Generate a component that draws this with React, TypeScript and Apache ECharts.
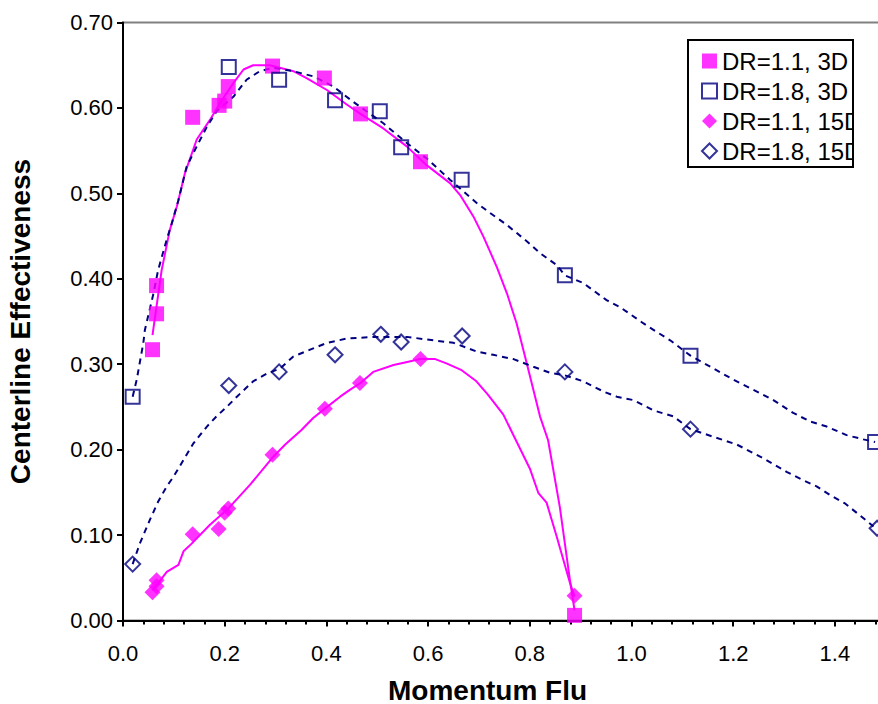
import React, { useEffect, useRef } from "react";
import * as echarts from "echarts";

const xTicks = { min: 0, max: 1.6, interval: 0.2 };
const yTicks = { min: 0, max: 0.7, interval: 0.1 };

const seriesNames = ["DR=1.1, 3D", "DR=1.8, 3D", "DR=1.1, 15D", "DR=1.8, 15D"];

const dr11_3D = [[0.058,0.317],[0.066,0.359],[0.066,0.392],[0.137,0.589],[0.189,0.603],[0.200,0.608],[0.207,0.625],[0.294,0.649],[0.396,0.635],[0.467,0.593],[0.585,0.537],[0.888,0.006]];
const dr18_3D = [[0.019,0.262],[0.208,0.648],[0.307,0.633],[0.417,0.609],[0.505,0.596],[0.547,0.554],[0.666,0.516],[0.869,0.404],[1.116,0.310],[1.479,0.209]];
const dr11_15D = [[0.058,0.033],[0.066,0.040],[0.066,0.047],[0.137,0.101],[0.188,0.107],[0.200,0.126],[0.207,0.131],[0.294,0.194],[0.397,0.248],[0.466,0.278],[0.585,0.306],[0.888,0.029]];
const dr18_15D = [[0.019,0.066],[0.208,0.275],[0.307,0.291],[0.417,0.311],[0.507,0.335],[0.547,0.326],[0.667,0.333],[0.869,0.291],[1.116,0.224],[1.483,0.108]];

const fit11_3D = [[0.058,0.334],[0.076,0.410],[0.092,0.457],[0.106,0.485],[0.122,0.524],[0.145,0.563],[0.171,0.586],[0.191,0.606],[0.217,0.629],[0.237,0.645],[0.256,0.650],[0.289,0.650],[0.335,0.643],[0.361,0.635],[0.401,0.621],[0.440,0.604],[0.467,0.593],[0.512,0.576],[0.558,0.555],[0.597,0.533],[0.643,0.512],[0.663,0.498],[0.689,0.473],[0.709,0.449],[0.735,0.414],[0.755,0.383],[0.774,0.348],[0.794,0.301],[0.820,0.239],[0.836,0.211],[0.859,0.133],[0.879,0.047],[0.888,0.012]];
const fit18_3D = [[0.019,0.262],[0.027,0.282],[0.040,0.325],[0.043,0.340],[0.060,0.383],[0.069,0.410],[0.086,0.446],[0.096,0.465],[0.109,0.492],[0.125,0.531],[0.145,0.555],[0.165,0.578],[0.184,0.596],[0.217,0.613],[0.243,0.633],[0.269,0.643],[0.296,0.647],[0.335,0.643],[0.374,0.637],[0.414,0.625],[0.453,0.607],[0.512,0.582],[0.558,0.559],[0.601,0.539],[0.643,0.516],[0.695,0.489],[0.722,0.477],[0.755,0.463],[0.794,0.444],[0.820,0.430],[0.853,0.416],[0.869,0.404],[0.905,0.395],[0.951,0.375],[0.977,0.367],[1.023,0.348],[1.049,0.338],[1.076,0.328],[1.116,0.310],[1.167,0.293],[1.200,0.282],[1.240,0.270],[1.279,0.258],[1.318,0.243],[1.351,0.233],[1.384,0.227],[1.423,0.217],[1.456,0.212],[1.479,0.209]];
const fit11_15D = [[0.058,0.035],[0.086,0.057],[0.109,0.065],[0.119,0.081],[0.135,0.090],[0.171,0.112],[0.207,0.131],[0.250,0.159],[0.296,0.192],[0.319,0.206],[0.351,0.223],[0.374,0.237],[0.397,0.248],[0.427,0.262],[0.446,0.270],[0.467,0.278],[0.492,0.291],[0.532,0.299],[0.561,0.303],[0.584,0.306],[0.614,0.306],[0.636,0.301],[0.666,0.293],[0.695,0.280],[0.718,0.264],[0.748,0.241],[0.771,0.213],[0.800,0.178],[0.817,0.149],[0.833,0.138],[0.853,0.098],[0.879,0.044],[0.888,0.028]];
const fit18_15D = [[0.019,0.066],[0.033,0.090],[0.053,0.118],[0.069,0.139],[0.086,0.157],[0.099,0.168],[0.119,0.188],[0.138,0.207],[0.165,0.227],[0.184,0.239],[0.204,0.250],[0.224,0.262],[0.256,0.280],[0.283,0.289],[0.309,0.295],[0.335,0.309],[0.368,0.317],[0.401,0.325],[0.440,0.330],[0.492,0.332],[0.558,0.332],[0.610,0.328],[0.650,0.325],[0.695,0.315],[0.728,0.311],[0.768,0.306],[0.807,0.297],[0.840,0.290],[0.869,0.287],[0.905,0.280],[0.945,0.268],[0.971,0.262],[1.004,0.258],[1.043,0.246],[1.082,0.239],[1.116,0.224],[1.161,0.215],[1.207,0.206],[1.259,0.190],[1.305,0.174],[1.338,0.164],[1.364,0.157],[1.390,0.147],[1.420,0.137],[1.443,0.126],[1.476,0.110]];

const MAGENTA = "#FF00FF";
const NAVY = "#000080";
const FONT = "'Liberation Sans', Arial, sans-serif";

export default function App() {
  const ref = useRef<HTMLDivElement>(null);
  useEffect(() => {
    if (!ref.current) return;
    const chart = echarts.init(ref.current, null, { renderer: "svg" });
    const lineBase = (name: string, data: number[][], color: string, dashed: boolean) => ({
      name,
      type: "line",
      data,
      showSymbol: false,
      symbol: "none",
      silent: true,
      z: 2,
      lineStyle: { color, width: 2, type: dashed ? [6, 5] : "solid" },
    });
    const scatter = (name: string, data: number[][], symbol: string, size: number, filled: boolean, color: string) => ({
      name,
      type: "scatter",
      data,
      symbol,
      symbolSize: size,
      z: 3,
      itemStyle: filled
        ? { color, borderWidth: 0 }
        : { color: "transparent", borderColor: color, borderWidth: 2 },
    });
    chart.setOption({
      animation: false,
      backgroundColor: "#ffffff",
      textStyle: { fontFamily: FONT },
      title: {
        text: "Momentum Flu",
        left: 388,
        top: 677,
        padding: 0,
        textStyle: { fontFamily: FONT, fontSize: 28, fontWeight: "bold", color: "#000", lineHeight: 26 },
      },
      grid: {
        left: 123,
        top: 22.5,
        bottom: 83.5,
        right: 960 - 936.6,
        outerBoundsMode: "none",
        containLabel: false,
        show: true,
        borderColor: "#808080",
        borderWidth: 2,
        backgroundColor: "transparent",
      },
      legend: {
        data: seriesNames,
        orient: "vertical",
        left: 696,
        top: 44,
        itemWidth: 15,
        itemHeight: 15,
        itemGap: 6,
        selectedMode: false,
        textStyle: { fontFamily: FONT, fontSize: 24, color: "#000", lineHeight: 24 },
      },
      xAxis: {
        type: "value",
        min: xTicks.min,
        max: xTicks.max,
        interval: xTicks.interval,
        splitLine: { show: false },
        axisLine: { onZero: false, lineStyle: { color: "#000", width: 2 } },
        axisTick: { length: 6, lineStyle: { color: "#000", width: 2 } },
        minorTick: { show: true, splitNumber: 5, length: 4, lineStyle: { color: "#000", width: 2 } },
        axisLabel: {
          formatter: (v: number) => v.toFixed(1),
          showMaxLabel: false,
          fontFamily: FONT,
          fontSize: 22,
          color: "#000",
          margin: 22,
        },
      },
      yAxis: {
        type: "value",
        min: yTicks.min,
        max: yTicks.max,
        interval: yTicks.interval,
        name: "Centerline Effectiveness",
        nameLocation: "middle",
        nameRotate: 90,
        nameGap: 89,
        nameTextStyle: { fontFamily: FONT, fontSize: 28, fontWeight: "bold", color: "#000" },
        splitLine: { show: false },
        axisLine: { onZero: false, lineStyle: { color: "#000", width: 2 } },
        axisTick: { length: 6, lineStyle: { color: "#000", width: 2 } },
        axisLabel: {
          formatter: (v: number) => v.toFixed(2),
          fontFamily: FONT,
          fontSize: 22,
          color: "#000",
          margin: 10,
        },
      },
      graphic: [
        {
          type: "rect",
          z: 100,
          shape: { x: 853, y: 36, width: 40, height: 136 },
          style: { fill: "#ffffff" },
        },
        {
          type: "rect",
          z: 101,
          shape: { x: 688, y: 40, width: 165, height: 127 },
          style: { fill: "none", stroke: "#000", lineWidth: 2 },
        },
      ],
      series: [
        lineBase("fit11_3D", fit11_3D, MAGENTA, false),
        lineBase("fit18_3D", fit18_3D, NAVY, true),
        lineBase("fit11_15D", fit11_15D, MAGENTA, false),
        lineBase("fit18_15D", fit18_15D, NAVY, true),
        scatter(seriesNames[0], dr11_3D, "rect", 15, true, MAGENTA),
        scatter(seriesNames[1], dr18_3D, "rect", 14, false, NAVY),
        scatter(seriesNames[2], dr11_15D, "diamond", 16, true, MAGENTA),
        scatter(seriesNames[3], dr18_15D, "diamond", 15, false, NAVY),
      ],
    });
    return () => chart.dispose();
  }, []);
  return (
    <div style={{ position: "absolute", left: 0, top: 0, width: 878, height: 704, overflow: "hidden", background: "#fff" }}>
      <div ref={ref} style={{ width: 960, height: 704 }} />
    </div>
  );
}
